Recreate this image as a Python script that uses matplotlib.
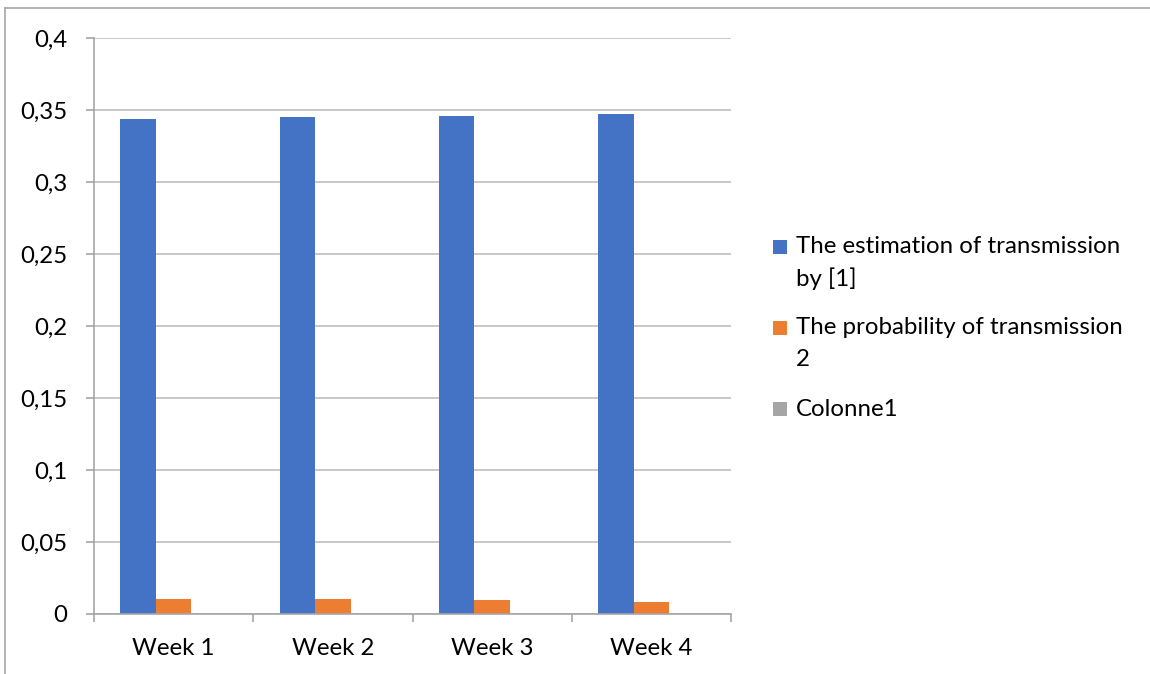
import matplotlib
matplotlib.use("Agg")
import matplotlib.pyplot as plt
from matplotlib.patches import Rectangle
from matplotlib.lines import Line2D
import numpy as np

categories = ["Week 1", "Week 2", "Week 3", "Week 4"]
series_names = ["The estimation of transmission\nby [1]",
                "The probability of transmission\n2",
                "Colonne1"]
estimation = [0.344, 0.345, 0.346, 0.347]
probability = [0.0107, 0.0101, 0.0095, 0.0084]
colonne1 = [0, 0, 0, 0]
y_ticks = [0, 0.05, 0.1, 0.15, 0.2, 0.25, 0.3, 0.35, 0.4]

colors = ["#4472C4", "#ED7D31", "#A5A5A5"]
grid_color = "#BFBFBF"
axis_color = "#A6A6A6"
text_color = "#000000"

plt.rcParams["font.family"] = ["Lato", "DejaVu Sans"]
FS = 17.3

W, H = 1150, 674
fig = plt.figure(figsize=(W / 100, H / 100), dpi=100)

# plot area in pixel coordinates
left, right, top, bottom = 94, 731, 38, 614
ax = fig.add_axes([left / W, 1 - bottom / H, (right - left) / W, (bottom - top) / H])

series = [estimation, probability, colonne1]
n = len(categories)
x = np.arange(n)
bar_w = 0.223
offsets = [-bar_w, 0, bar_w]
for vals, off, col in zip(series, offsets, colors):
    ax.bar(x + off, vals, width=bar_w, color=col, edgecolor="none", zorder=3)

ax.set_xlim(-0.5, n - 0.5)
ax.set_ylim(0, 0.4)

# horizontal gridlines
ax.set_yticks(y_ticks)
ax.set_yticklabels([("%g" % v).replace(".", ",") for v in y_ticks],
                   fontsize=FS, color=text_color)
ax.yaxis.grid(True, color=grid_color, linewidth=1.2, zorder=0)
ax.tick_params(axis="y", length=6, width=1.2, color=axis_color, pad=13)

# category labels at centres, tick marks at boundaries
ax.set_xticks(x)
ax.set_xticklabels(categories, fontsize=FS, color=text_color)
ax.set_xticks(np.arange(n + 1) - 0.5, minor=True)
ax.tick_params(axis="x", which="major", length=0, pad=17)
ax.tick_params(axis="x", which="minor", length=6, width=1.2, color=axis_color)

for side in ["top", "right"]:
    ax.spines[side].set_visible(False)
for side in ["left", "bottom"]:
    ax.spines[side].set_color(axis_color)
    ax.spines[side].set_linewidth(1.2)
    ax.spines[side].set_zorder(4)

# legend drawn in figure pixel space
legend_rows = [247, 328, 409]
line_gap = 32
for name, col, yc in zip(series_names, colors, legend_rows):
    fig.patches.append(Rectangle((773 / W, 1 - (yc + 7) / H), 14 / W, 14 / H,
                                 transform=fig.transFigure, facecolor=col,
                                 edgecolor="none"))
    for i, line in enumerate(name.split("\n")):
        fig.text(796 / W, 1 - (yc + i * line_gap) / H, line, fontsize=FS,
                 color=text_color, va="center", ha="left")

# outer chart frame (top and left edges)
fig.add_artist(Line2D([5 / W, 1], [1 - 8 / H, 1 - 8 / H], transform=fig.transFigure,
                      color="#A6A6A6", linewidth=1.2))
fig.add_artist(Line2D([5 / W, 5 / W], [0, 1 - 8 / H], transform=fig.transFigure,
                      color="#A6A6A6", linewidth=1.2))

fig.savefig("out.png", dpi=100, facecolor="white")
